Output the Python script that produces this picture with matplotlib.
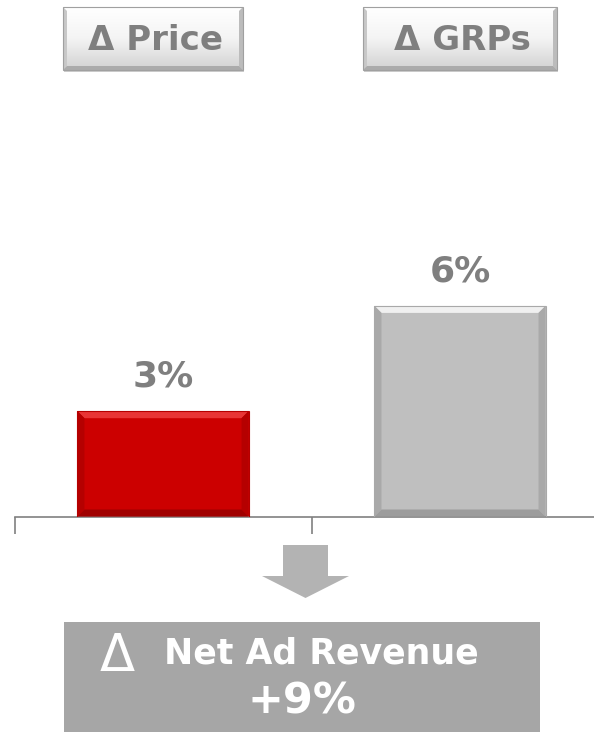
import matplotlib.pyplot as plt
import numpy as np
from matplotlib.patches import Polygon, Rectangle
from matplotlib.colors import LinearSegmentedColormap

# Data
categories = ['Price', 'GRPs']
changes = [3, 6]          # % change per driver
total_label = 'Net Ad Revenue'
total_change = 9          # % change in net ad revenue

# Colours
bar_colors = ['#cc0000', '#bfbfbf']
bevel_colors = [  # top, sides, bottom
    ('#e83535', '#b50000', '#a00000'),
    ('#f0f0f0', '#a9a9a9', '#9c9c9c'),
]
text_grey = '#7f7f7f'
axis_grey = '#808080'

W, H = 594, 732
fig = plt.figure(figsize=(W / 100, H / 100), dpi=100)

# Full-figure overlay in pixel units for the header buttons, arrow and result box
deco = fig.add_axes([0, 0, 1, 1], zorder=0)
deco.axis('off')

# Bar chart axes: 1% == ~35 px, baseline at y=516
px_per_pct = 35.1
base_y = 516.5
ax_top = 90
ax = fig.add_axes([14.5 / W, (H - base_y) / H, 1.0, (base_y - ax_top) / H], zorder=1)
ax.patch.set_alpha(0)

x = np.arange(len(categories))
bars = ax.bar(x, changes, width=0.576, color=bar_colors, edgecolor='none', zorder=2)
ax.set_xlim(-0.5, 1.5)
ax.set_ylim(0, (base_y - ax_top) / px_per_pct)

# Bevelled look on each bar
bx = 7 / 297
by = 7 / px_per_pct
for bar, (top_c, side_c, bot_c) in zip(bars, bevel_colors):
    x0, w, h = bar.get_x(), bar.get_width(), bar.get_height()
    x1 = x0 + w
    ax.add_patch(Polygon([(x0, h), (x1, h), (x1 - bx, h - by), (x0 + bx, h - by)],
                         closed=True, color=top_c, lw=0, zorder=3))
    ax.add_patch(Polygon([(x0, h), (x0 + bx, h - by), (x0 + bx, by), (x0, 0)],
                         closed=True, color=side_c, lw=0, zorder=3))
    ax.add_patch(Polygon([(x1, h), (x1 - bx, h - by), (x1 - bx, by), (x1, 0)],
                         closed=True, color=side_c, lw=0, zorder=3))
    ax.add_patch(Polygon([(x0, 0), (x1, 0), (x1 - bx, by), (x0 + bx, by)],
                         closed=True, color=bot_c, lw=0, zorder=3))
    ax.add_patch(Rectangle((x0, 0), w, h, fill=False, ec=side_c, lw=0.8, zorder=4))
    ax.annotate(f'{h:g}%', (bar.get_x() + w / 2, h), xytext=(0, 25),
                textcoords='offset points', ha='center', va='center',
                fontsize=26, fontweight='bold', color=text_grey)

# Axis line with category separators
for side in ['left', 'right', 'top']:
    ax.spines[side].set_visible(False)
ax.spines['bottom'].set_color(axis_grey)
ax.spines['bottom'].set_linewidth(1.2)
ax.set_xticks([-0.5, 0.5, 1.5])
ax.set_xticklabels([])
ax.tick_params(axis='x', length=12, width=1.2, color=axis_grey, direction='out')
ax.set_yticks([])

# Header buttons
grad = LinearSegmentedColormap.from_list('btn', ['#ffffff', '#f4f4f4', '#d2d2d2'])
buttons = [(63, 243), (363, 557)]
btn_top, btn_bot = 7, 70
g = np.linspace(0, 1, 64).reshape(-1, 1)
for (bx0, bx1), name in zip(buttons, categories):
    # drop shadow
    deco.add_patch(Rectangle((bx0 + 1, btn_top + 2), bx1 - bx0, btn_bot - btn_top,
                             color='#cccccc', lw=0, zorder=1))
    deco.imshow(g, cmap=grad, extent=(bx0, bx1, btn_bot, btn_top), aspect='auto', zorder=2)
    deco.add_patch(Polygon([(bx0, btn_top), (bx0 + 4, btn_top + 4), (bx0 + 4, btn_bot - 4), (bx0, btn_bot)],
                           closed=True, color='#c8c8c8', lw=0, zorder=3))
    deco.add_patch(Polygon([(bx1, btn_top), (bx1 - 4, btn_top + 4), (bx1 - 4, btn_bot - 4), (bx1, btn_bot)],
                           closed=True, color='#bcbcbc', lw=0, zorder=3))
    deco.add_patch(Polygon([(bx0, btn_bot), (bx1, btn_bot), (bx1 - 4, btn_bot - 4), (bx0 + 4, btn_bot - 4)],
                           closed=True, color='#ababab', lw=0, zorder=3))
    deco.add_patch(Rectangle((bx0, btn_top), bx1 - bx0, btn_bot - btn_top,
                             fill=False, ec='#a0a0a0', lw=0.8, zorder=4))
    deco.text((bx0 + bx1) / 2 + 2, 40.5, f'\u0394 {name}', ha='center', va='center',
              fontsize=24.5, fontweight='bold', color=text_grey, zorder=5)

# Down arrow
deco.add_patch(Polygon([(283, 545), (328, 545), (328, 576), (349, 576),
                        (305.5, 598), (262, 576), (283, 576)],
                       closed=True, color='#b3b3b3', lw=0, zorder=2))

# Result box
deco.add_patch(Rectangle((64, 622), 476, H - 622, color='#a6a6a6', lw=0, zorder=2))
deco.text(117, 657, '\u0394', ha='center', va='center', fontsize=37,
          color='white', zorder=3)
deco.text(321, 654, total_label, ha='center', va='center', fontsize=25,
          fontweight='bold', color='white', zorder=3)
deco.text(302, 701, f'+{total_change}%', ha='center', va='center', fontsize=31,
          fontweight='bold', color='white', zorder=3)

deco.set_xlim(0, W)
deco.set_ylim(H, 0)

fig.savefig('out.png', dpi=100)
